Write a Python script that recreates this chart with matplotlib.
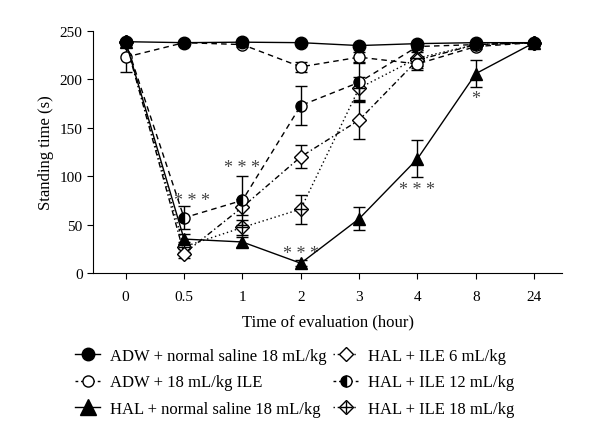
import numpy as np
import matplotlib.pyplot as plt
from matplotlib.lines import Line2D

plt.rcParams['font.family'] = ['Liberation Serif', 'DejaVu Serif']

hours = ["0", "0.5", "1", "2", "3", "4", "8", "24"]

adw_saline = [239, 238, 238.5, 238, 235, 237, 238, 238]
adw_saline_err = [2, 2, 2, 2, 2, 2, 2, 2]
adw_ile = [223, 238, 236, 213, 223, 216, 234, 238]
adw_ile_err = [15, 2, 2, 5, 5, 6, 3, 2]
hal_saline = [239, 35, 32, 10, 56, 118, 206, 238]
hal_saline_err = [2, 5, 5, 3, 12, 19, 14, 2]
hal_ile6 = [239, 20, 68, 120, 158, 220, 236, 238]
hal_ile6_err = [2, 5, 8, 12, 20, 8, 3, 2]
hal_ile12 = [239, 57, 75, 173, 197, 234, 236, 238]
hal_ile12_err = [2, 12, 25, 20, 20, 4, 3, 2]
hal_ile18 = [239, 27, 47, 66, 191, 222, 236, 238]
hal_ile18_err = [2, 5, 8, 15, 12, 8, 3, 2]

stars_x = [1.13, 2, 3, 5, 6]
stars_y = [75, 109, 20, 86, 180]
stars_txt = ["* * *", "* * *", "* * *", "* * *", "*"]

fig = plt.figure(figsize=(6, 4.39), dpi=100)
ax = fig.add_axes([0.155, 0.376, 0.782, 0.551])
x = np.arange(len(hours))

def draw(y, e, marker, ls, mfc, ms=8, fs='full', z=2):
    ax.errorbar(x, y, yerr=e, color='black', marker=marker, ls=ls, lw=1,
                mfc=mfc, mec='black', ms=ms, capsize=4, elinewidth=1,
                fillstyle=fs, markerfacecoloralt='white', zorder=z)

draw(hal_ile18, hal_ile18_err, 'D', (0, (1, 2)), 'white', ms=7)
ax.plot(x, hal_ile18, ls='none', marker='+', color='black', ms=9, mew=1, zorder=2.1)
draw(hal_ile6, hal_ile6_err, 'D', (0, (4, 2, 1, 2)), 'white', ms=7)
draw(adw_ile, adw_ile_err, 'o', (0, (4, 3)), 'white', z=3)
draw(hal_ile12, hal_ile12_err, 'o', (0, (4, 3)), 'black', fs='left', z=3)
draw(hal_saline, hal_saline_err, '^', '-', 'black', ms=9, z=4)
draw(adw_saline, adw_saline_err, 'o', '-', 'black', ms=9, z=5)

for sx, sy, st in zip(stars_x, stars_y, stars_txt):
    ax.text(sx, sy, st, ha='center', va='center', fontsize=13, color='#444444')

ax.set_xlim(-0.56, 7.48)
ax.set_ylim(0, 250)
ax.set_xticks(x)
ax.set_xticklabels(hours)
ax.set_yticks([0, 50, 100, 150, 200, 250])
ax.tick_params(labelsize=11, length=4)
ax.tick_params(axis='x', pad=8)
ax.spines['top'].set_visible(False)
ax.spines['right'].set_visible(False)
ax.set_xlabel("Time of evaluation (hour)", fontsize=12, labelpad=8)
ax.set_ylabel("Standing time (s)", fontsize=12)

k = dict(color='black', lw=1, mec='black')
l1 = Line2D([], [], marker='o', ls='-', mfc='black', ms=9, **k)
l2 = Line2D([], [], marker='o', ls=(0, (2, 2)), mfc='white', ms=8, **k)
l3 = Line2D([], [], marker='^', ls='-', mfc='black', ms=11, **k)
l4 = Line2D([], [], marker='D', ls=(0, (1, 2)), mfc='white', ms=7, **k)
l5 = Line2D([], [], marker='o', ls=(0, (2, 2)), mfc='black', ms=8,
            fillstyle='left', markerfacecoloralt='white', **k)
l6a = Line2D([], [], marker='D', ls=(0, (1, 2)), mfc='white', ms=7, **k)
l6b = Line2D([], [], marker='+', ls='none', color='black', ms=9)
labels = ['ADW + normal saline 18 mL/kg', 'ADW + 18 mL/kg ILE',
          'HAL + normal saline 18 mL/kg', 'HAL + ILE 6 mL/kg',
          'HAL + ILE 12 mL/kg', 'HAL + ILE 18 mL/kg']
fig.legend(handles=[l1, l2, l3, l4, l5, (l6a, l6b)], labels=labels, ncol=2,
           loc='upper left', bbox_to_anchor=(0.1, 0.24), frameon=False,
           fontsize=12, handlelength=1.5, columnspacing=0.4, labelspacing=0.65,
           handletextpad=0.6)

fig.savefig("out.png", dpi=100)
